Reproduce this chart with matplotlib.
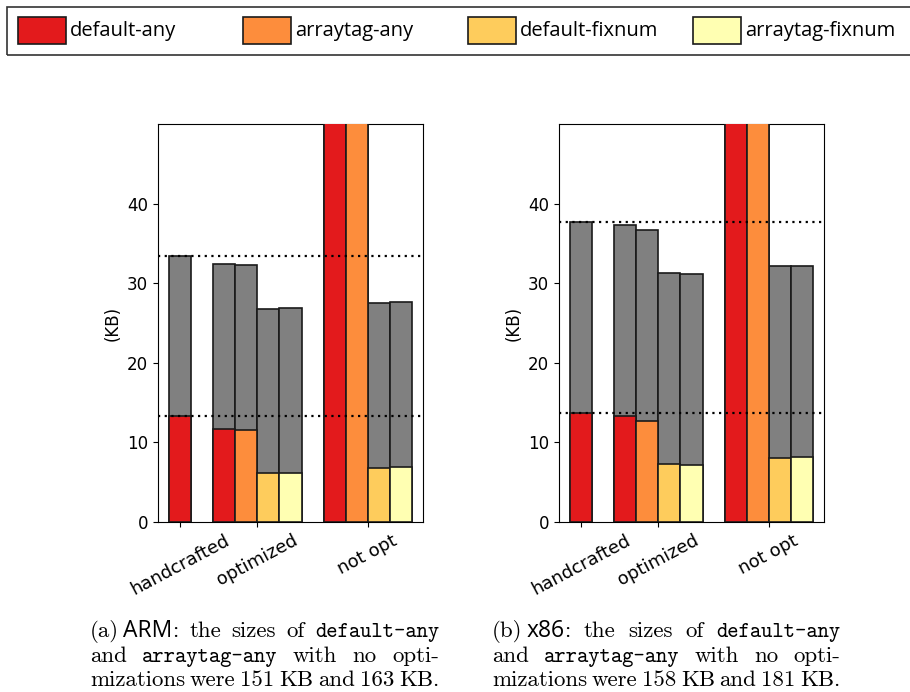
import matplotlib
matplotlib.use("Agg")
import matplotlib.pyplot as plt
from matplotlib.patches import Rectangle
import numpy as np

W, H, DPI = 910, 692, 100

# ---------------- data ----------------
categories = ["handcrafted", "optimized", "not opt"]
series_names = ["default-any", "arraytag-any", "default-fixnum", "arraytag-fixnum"]
series_colors = ["#e31a1c", "#fd8d3c", "#fecc5c", "#ffffb2"]
gray_color = "#808080"

# which series are present in each category
group_series = [[0], [0, 1, 2, 3], [0, 1, 2, 3]]

# ARM (KB): coloured part and total (gray) height
arm_part = [[13.3], [11.7, 11.6, 6.1, 6.2], [151, 163, 6.8, 6.9]]
arm_total = [[33.4], [32.4, 32.3, 26.8, 26.9], [151, 163, 27.5, 27.6]]

# x86 (KB)
x86_part = [[13.7], [13.3, 12.7, 7.25, 7.15], [158, 181, 8.0, 8.2]]
x86_total = [[37.7], [37.3, 36.7, 31.3, 31.2], [158, 181, 32.1, 32.2]]

yticks = [0, 10, 20, 30, 40]

# ---------------- figure ----------------
fig = plt.figure(figsize=(W / DPI, H / DPI), dpi=DPI)


def fx(px):
    return px / W


def fy(py):
    return 1 - py / H


def make_axes(left_px, right_px, top_px=124, bottom_px=522):
    return fig.add_axes([fx(left_px), fy(bottom_px),
                         (right_px - left_px) / W, (bottom_px - top_px) / H])


EDGE = "#1a1a1a"


def draw(ax, part, total):
    pos = 0
    ticks = []
    for g, sers in enumerate(group_series):
        xs = []
        for k, s in enumerate(sers):
            ax.bar(pos, total[g][k], width=1, color=gray_color, edgecolor=EDGE,
                   linewidth=1.2, zorder=2)
            ax.bar(pos, part[g][k], width=1, color=series_colors[s], edgecolor=EDGE,
                   linewidth=1.2, zorder=3)
            xs.append(pos)
            pos += 1
        ticks.append(np.mean(xs))
        pos += 1
    for v in (total[0][0], part[0][0]):
        ax.axhline(v, color="black", linestyle=(0, (1, 2)), linewidth=1.6, zorder=5)
    ax.set_xlim(-1, pos - 1)
    ax.set_ylim(0, 50)
    ax.set_yticks(yticks)
    ax.set_xticks(ticks)
    ax.set_xticklabels(categories, rotation=28, fontsize=13)
    ax.tick_params(axis="y", labelsize=12)
    ax.set_ylabel("(KB)", fontsize=12)


ax1 = make_axes(158, 423)
draw(ax1, arm_part, arm_total)
ax2 = make_axes(559, 824)
draw(ax2, x86_part, x86_total)

# ---------------- legend (figure-level) ----------------
fig.add_artist(Rectangle((fx(7), fy(55)), (W + 10 - 7) / W, 48 / H,
                         transform=fig.transFigure, fill=False,
                         edgecolor="#333333", linewidth=1.2))
leg_x = [18, 243, 468, 693]
for x, name, col in zip(leg_x, series_names, series_colors):
    fig.add_artist(Rectangle((fx(x), fy(44)), 48 / W, 27 / H,
                             transform=fig.transFigure, facecolor=col,
                             edgecolor=EDGE, linewidth=1.2))
    fig.text(fx(x + 52), fy(31), name, fontsize=14.5, family="Open Sans",
             va="center", ha="left")

# ---------------- captions (justified) ----------------
fonts = {
    "rm": dict(family="cmr10", fontsize=16.5),
    "tt": dict(family="cmtt10", fontsize=15.5),
    "sf": dict(family="Open Sans", fontsize=16.5),
}


def W_(s, f="rm", gap=0):
    return [(s, f, gap)]


left_caption = [
    [[("(a)", "rm", 0), ("ARM", "sf", 4), (":", "rm", 0)], W_("the"), W_("sizes"),
     W_("of"), W_("default-any", "tt")],
    [W_("and"), W_("arraytag-any", "tt"), W_("with"), W_("no"), W_("opti-")],
    [W_("mizations"), W_("were"), W_("151"), W_("KB"), W_("and"), W_("163"), W_("KB.")],
]
right_caption = [
    [[("(b)", "rm", 0), ("x86", "sf", 4), (":", "rm", 0)], W_("the"), W_("sizes"),
     W_("of"), W_("default-any", "tt")],
    [W_("and"), W_("arraytag-any", "tt"), W_("with"), W_("no"), W_("opti-")],
    [W_("mizations"), W_("were"), W_("158"), W_("KB"), W_("and"), W_("181"), W_("KB.")],
]

renderer = fig.canvas.get_renderer()


def place_caption(lines, x0, x1, baselines):
    for words, yb in zip(lines, baselines):
        items = []
        total_w = 0
        for word in words:
            segs = []
            ww = 0
            for s, f, gap in word:
                t = fig.text(0, 0, s, va="baseline", ha="left", **fonts[f])
                w = t.get_window_extent(renderer).width
                segs.append((t, gap, w))
                ww += gap + w
            items.append((segs, ww))
            total_w += ww
        space = (x1 - x0 - total_w) / max(len(items) - 1, 1)
        x = x0
        for segs, ww in items:
            for t, gap, w in segs:
                x += gap
                t.set_position((fx(x), fy(yb)))
                x += w
            x += space


place_caption(left_caption, 90, 439, [637, 662, 686])
place_caption(right_caption, 492, 840, [637, 662, 686])

fig.savefig("out.png", dpi=DPI)
